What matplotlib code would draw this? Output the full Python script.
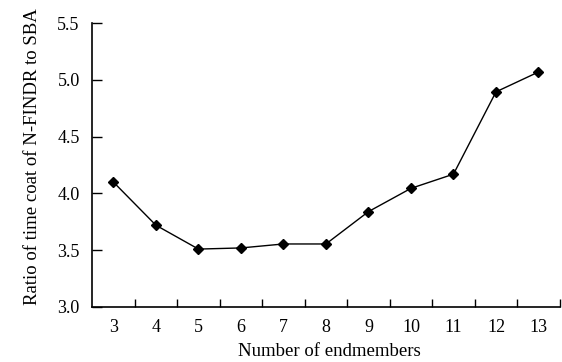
import numpy as np
import matplotlib.pyplot as plt

# Дані
endmembers = ['3', '4', '5', '6', '7', '8', '9', '10', '11', '12', '13']
ratio = [4.10, 3.72, 3.51, 3.52, 3.555, 3.555, 3.84, 4.045, 4.17, 4.895, 5.07]

plt.rcParams['font.family'] = ['Liberation Serif', 'DejaVu Serif']

fig = plt.figure(figsize=(5.62, 3.62), dpi=100)
ax = fig.add_axes([0.164, 0.152, 0.832, 0.784])

x = np.arange(len(endmembers))
ax.plot(x, ratio, color='black', linewidth=1.0, marker='D', markersize=5.5)

ax.set_xlim(-0.5, len(endmembers) - 0.5)
ax.set_ylim(3.0, 5.5)
yt = np.arange(3.0, 5.51, 0.5)
ax.set_yticks(yt)
ax.set_yticklabels([f'{v:.1f}' for v in yt])

# Підписи по центру категорій, риски на межах
ax.set_xticks(x)
ax.set_xticklabels(endmembers)
ax.tick_params(axis='x', length=0, labelsize=13, pad=9)
ax.set_xticks(np.arange(0.5, len(endmembers)), minor=True)
ax.tick_params(axis='x', which='minor', direction='in', length=6, width=1)
ax.tick_params(axis='y', direction='in', length=7, width=1, labelsize=13, pad=9)

for s in ['top', 'right']:
    ax.spines[s].set_visible(False)
for s in ['left', 'bottom']:
    ax.spines[s].set_linewidth(1.2)

ax.set_xlabel('Number of endmembers', fontsize=13.5, labelpad=5)
ax.set_ylabel('Ratio of time coat of N-FINDR to SBA', fontsize=13.5, labelpad=12)
ax.xaxis.label.set_x(0.508)
ax.yaxis.label.set_y(0.53)

fig.savefig('out.png', dpi=100)
